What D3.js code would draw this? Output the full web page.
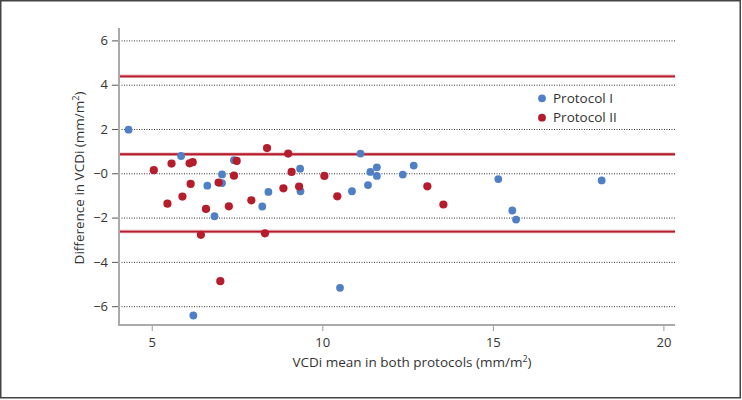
<!DOCTYPE html>
<html><head><meta charset="utf-8">
<script src="https://cdn.jsdelivr.net/npm/d3@7"></script>
<style>
html,body{margin:0;padding:0;background:#fff;}
svg{display:block;}
text{font-family:"Open Sans","Noto Sans",sans-serif;fill:#333;}
</style></head>
<body>
<svg id="chart" width="742" height="400"></svg>
<script>
// Protocol I (blue): VCDi mean vs difference
const protocolIX = [4.32,5.86,6.22,6.63,6.84,7.06,7.06,7.41,8.24,8.42,9.35,9.36,10.52,10.87,11.12,11.34,11.41,11.60,11.60,12.36,12.68,15.16,15.57,15.68,18.19];
const protocolIY = [1.97,0.78,-6.42,-0.56,-1.94,-0.05,-0.44,0.59,-1.50,-0.84,0.21,-0.81,-5.17,-0.81,0.89,-0.53,0.06,0.27,-0.12,-0.06,0.35,-0.26,-1.68,-2.09,-0.32];
// Protocol II (red)
const protocolIIX = [5.06,5.46,5.58,5.90,6.11,6.14,6.20,6.44,6.59,6.96,7.01,7.26,7.41,7.49,7.92,8.32,8.38,8.86,9.00,9.10,9.32,10.06,10.44,13.08,13.55];
const protocolIIY = [0.14,-1.37,0.44,-1.05,0.45,-0.48,0.50,-2.78,-1.61,-0.42,-4.87,-1.49,-0.11,0.56,-1.22,-2.71,1.14,-0.68,0.89,0.06,-0.60,-0.12,-1.04,-0.59,-1.41];
// Limits of agreement: upper, mean bias, lower
const agreementLines = [4.38, 0.86, -2.63];
const xTicks = [5, 10, 15, 20];
const yTicks = [-6, -4, -2, 0, 2, 4, 6];
const yTickLabels = ["\u22126", "\u22124", "\u22122", "\u22120", "2", "4", "6"];
const seriesNames = ["Protocol I", "Protocol II"];
const seriesColors = ["#4f80c5", "#b51d2d"];
const xTitle = "VCDi mean in both protocols (mm/m";
const yTitle = "Difference in VCDi (mm/m";

const svg = d3.select("#chart");
const L = 119, R = 675, T = 28, B = 325;
const x = d3.scaleLinear().domain([4.04, 20.34]).range([L, R]);
const y = d3.scaleLinear().domain([-6.85, 6.56]).range([B, T]);

// frame
svg.append("rect").attr("x", 0.75).attr("y", 0.75).attr("width", 739.5).attr("height", 397)
  .attr("fill", "none").attr("stroke", "#444").attr("stroke-width", 1.5);

// gridlines
svg.append("g").selectAll("line").data(yTicks).join("line")
  .attr("x1", L).attr("x2", R).attr("y1", d => y(d) + 0.5).attr("y2", d => y(d) + 0.5)
  .attr("stroke", "#333").attr("stroke-width", 1).attr("stroke-dasharray", "1,1.5");

// agreement lines
const ag = svg.append("g");
ag.selectAll("line.h").data(agreementLines).join("line").attr("class", "h")
  .attr("x1", L).attr("x2", R).attr("y1", d => y(d)).attr("y2", d => y(d))
  .attr("stroke", "#eab0b6").attr("stroke-width", 3.5);
ag.selectAll("line.c").data(agreementLines).join("line").attr("class", "c")
  .attr("x1", L).attr("x2", R).attr("y1", d => y(d)).attr("y2", d => y(d))
  .attr("stroke", "#b51d2d").attr("stroke-width", 1.8);

// axes
const yAxis = d3.axisLeft(y).tickValues(yTicks).tickSize(7).tickPadding(4)
  .tickFormat((d, i) => yTickLabels[i]);
const gy = svg.append("g").attr("transform", `translate(${L},0)`).call(yAxis);
gy.select(".domain").remove();
gy.selectAll(".tick line").attr("stroke", "#555");
gy.selectAll(".tick text").attr("font-size", 13).attr("fill", "#333")
  .style("font-family", "'Open Sans', sans-serif");

const xAxis = d3.axisBottom(x).tickValues(xTicks).tickSize(6).tickPadding(7);
const gx = svg.append("g").attr("transform", `translate(0,${B})`).call(xAxis);
gx.select(".domain").remove();
gx.selectAll(".tick line").attr("stroke", "#999");
gx.selectAll(".tick text").attr("font-size", 13).attr("fill", "#333")
  .style("font-family", "'Open Sans', sans-serif");

svg.append("line").attr("x1", L).attr("x2", L).attr("y1", T).attr("y2", B + 1)
  .attr("stroke", "#aaa").attr("stroke-width", 2);
svg.append("line").attr("x1", L).attr("x2", R).attr("y1", B).attr("y2", B)
  .attr("stroke", "#aaa").attr("stroke-width", 2);

// points
const blue = protocolIX.map((v, i) => ({x: v, y: protocolIY[i]}));
const red = protocolIIX.map((v, i) => ({x: v, y: protocolIIY[i]}));
svg.append("g").selectAll("circle").data(blue).join("circle")
  .attr("cx", d => x(d.x)).attr("cy", d => y(d.y)).attr("r", 3.9).attr("fill", seriesColors[0]);
svg.append("g").selectAll("circle").data(red).join("circle")
  .attr("cx", d => x(d.x)).attr("cy", d => y(d.y)).attr("r", 4.1).attr("fill", seriesColors[1]);

// titles
const xt = svg.append("text").attr("x", 412).attr("y", 367).attr("text-anchor", "middle")
  .attr("font-size", 13.5);
xt.append("tspan").text(xTitle);
xt.append("tspan").attr("dy", -5).attr("font-size", 9).text("2");
xt.append("tspan").attr("dy", 5).text(")");

const yt = svg.append("text").attr("transform", "translate(84,178) rotate(-90)")
  .attr("text-anchor", "middle").attr("font-size", 13.5);
yt.append("tspan").text(yTitle);
yt.append("tspan").attr("dy", -5).attr("font-size", 9).text("2");
yt.append("tspan").attr("dy", 5).text(")");

// legend
const lg = svg.append("g");
seriesNames.forEach((n, i) => {
  lg.append("circle").attr("cx", 542).attr("cy", 98.3 + i * 19.4).attr("r", 3.9).attr("fill", seriesColors[i]);
  lg.append("text").attr("x", 553).attr("y", 102.7 + i * 19.4).attr("font-size", 13.5).text(n);
});
</script>
</body></html>
